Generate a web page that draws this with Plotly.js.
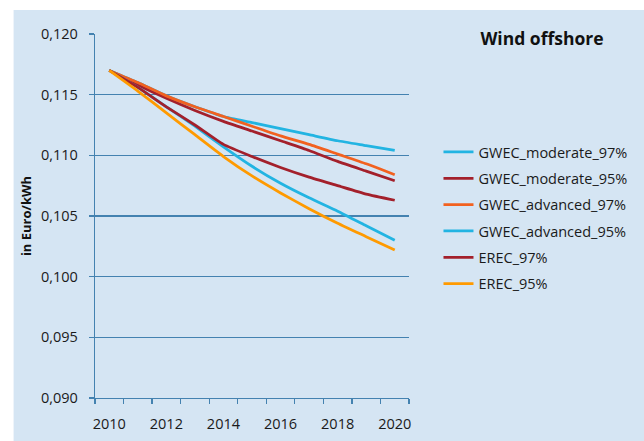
<!DOCTYPE html>
<html>
<head>
<meta charset="utf-8">
<script src="https://cdn.plot.ly/plotly-3.0.1.min.js"></script>
<style>html,body{margin:0;padding:0;background:#fff;}#chart{width:644px;height:441px;}</style>
</head>
<body>
<div id="chart"></div>
<script>
const years = [2010, 2011, 2012, 2013, 2014, 2015, 2016, 2017, 2018, 2019, 2020];
const seriesNames = ["GWEC_moderate_97%", "GWEC_moderate_95%", "GWEC_advanced_97%", "GWEC_advanced_95%", "EREC_97%", "EREC_95%"];
const gwecModerate97 = [0.1170, 0.1160, 0.1149, 0.1140, 0.1132, 0.1127, 0.1122, 0.1117, 0.1112, 0.1108, 0.1104];
const gwecModerate95 = [0.1170, 0.1158, 0.1147, 0.1137, 0.1128, 0.1120, 0.1112, 0.1104, 0.1095, 0.1087, 0.1079];
const gwecAdvanced97 = [0.1170, 0.1160, 0.1149, 0.1140, 0.1132, 0.1124, 0.1116, 0.1109, 0.1101, 0.1093, 0.1084];
const gwecAdvanced95 = [0.1170, 0.1156, 0.1140, 0.1124, 0.1107, 0.1091, 0.1077, 0.1065, 0.1054, 0.1042, 0.1030];
const erec97 = [0.1170, 0.1156, 0.1140, 0.1125, 0.1109, 0.1099, 0.1090, 0.1082, 0.1075, 0.1068, 0.1063];
const erec95 = [0.1170, 0.1153, 0.1135, 0.1117, 0.1099, 0.1083, 0.1069, 0.1056, 0.1044, 0.1033, 0.1022];
const yTickValues = [0.090, 0.095, 0.100, 0.105, 0.110, 0.115, 0.120];
const xLabelYears = [2010, 2012, 2014, 2016, 2018, 2020];

const values = [gwecModerate97, gwecModerate95, gwecAdvanced97, gwecAdvanced95, erec97, erec95];
const colors = ["#22B4E2", "#A3202B", "#F2611F", "#22B4E2", "#A3202B", "#FF9A00"];

const FONT = "'Open Sans', 'Noto Sans', sans-serif";
const BG = "#D5E5F3";
const GRID = "#4482B0";

const traces = values.map((v, i) => ({
  x: years, y: v, name: seriesNames[i], type: "scatter", mode: "lines",
  legendgroup: "g" + i,
  line: {color: colors[i], width: 2.75, shape: "spline", smoothing: 0.5},
  hoverinfo: "skip"
}));

const L = 95, R = 411.3, T = 34, B = 398;
const pw = R - L, ph = B - T;
const px = v => (v - L) / pw;
const py = v => (B - v) / ph;

const layout = {
  width: 644, height: 441,
  margin: {l: L, r: 644 - R, t: T, b: 441 - B, pad: 0},
  paper_bgcolor: BG,
  plot_bgcolor: BG,
  separators: ",.",
  font: {family: FONT, color: "#1a1a1a", size: 14.5},
  showlegend: true,
  title: {
    text: "<b>Wind offshore</b>",
    font: {family: FONT, size: 17.5, color: "#111"},
    xref: "container", yref: "container",
    x: 542 / 644, xanchor: "center",
    y: 1 - 39 / 441, yanchor: "middle"
  },
  xaxis: {
    type: "linear",
    range: [2009.5, 2020.5],
    tickmode: "array",
    tickvals: xLabelYears,
    ticktext: xLabelYears.map(String),
    ticks: "",
    showgrid: false,
    zeroline: false,
    showline: true, linecolor: GRID, linewidth: 1.3,
    tickfont: {family: FONT, size: 14.5, color: "#1a1a1a"},
    ticklabelstandoff: 12,
    minor: {tickmode: "linear", tick0: 2009.5, dtick: 1, ticks: "outside", ticklen: 5, tickwidth: 1.3, tickcolor: GRID, showgrid: false},
    fixedrange: true
  },
  yaxis: {
    range: [0.090, 0.120],
    tickmode: "array",
    tickvals: yTickValues,
    tickformat: ".3f",
    ticks: "outside", ticklen: 5, tickwidth: 1.3, tickcolor: GRID,
    showgrid: true, gridcolor: GRID, gridwidth: 1.3,
    zeroline: false,
    showline: true, linecolor: GRID, linewidth: 1.3,
    tickfont: {family: FONT, size: 14.5, color: "#1a1a1a"},
    ticklabelstandoff: 8,
    title: {text: "<b>in Euro/kWh</b>", font: {family: FONT, size: 13, color: "#111"}, standoff: 6},
    fixedrange: true
  },
  legend: {
    x: px(441), xanchor: "left",
    y: py(136), yanchor: "top",
    bgcolor: "rgba(0,0,0,0)",
    font: {family: FONT, size: 14.5, color: "#1a1a1a"},
    tracegroupgap: 4.5,
    traceorder: "grouped"
  },
  shapes: [
    {type: "rect", xref: "paper", yref: "paper", x0: px(-5), x1: px(650), y0: py(-5), y1: py(10), fillcolor: "#fff", line: {width: 0}, layer: "above"},
    {type: "rect", xref: "paper", yref: "paper", x0: px(-5), x1: px(13), y0: py(-5), y1: py(450), fillcolor: "#fff", line: {width: 0}, layer: "above"}
  ]
};

Plotly.newPlot("chart", traces, layout, {displayModeBar: false, staticPlot: true});
</script>
</body>
</html>
